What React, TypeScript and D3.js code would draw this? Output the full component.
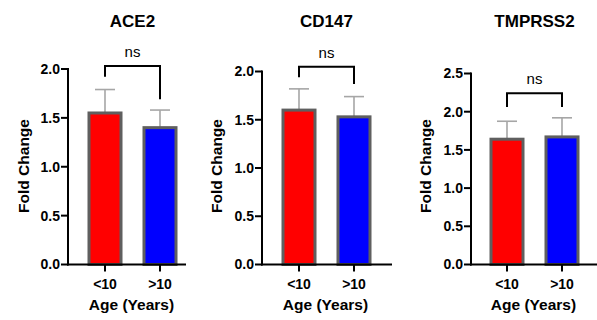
import React from "react";
import * as d3 from "d3";

const titles = ["ACE2", "CD147", "TMPRSS2"];
const categories = ["<10", ">10"];
const means = [
  [1.55, 1.4],
  [1.6, 1.53],
  [1.64, 1.67],
];
const errTops = [
  [1.79, 1.58],
  [1.82, 1.74],
  [1.875, 1.92],
];
const yMaxes = [2.0, 2.0, 2.5];
const yTickValues = [
  [0, 0.5, 1.0, 1.5, 2.0],
  [0, 0.5, 1.0, 1.5, 2.0],
  [0, 0.5, 1.0, 1.5, 2.0, 2.5],
];
const sigLabels = ["ns", "ns", "ns"];
const bracketTops = [2.03, 2.05, 2.24];
const bracketLegEnds = [
  [1.92, 1.69],
  [1.94, 1.87],
  [2.06, 2.06],
];
const yLabel = "Fold Change";
const xLabel = "Age (Years)";
const barColors = ["#ff0000", "#0000ff"];

// layout (not data)
const panels = [
  { axisX: 68, yTop: 69, xEnd: 186, c0: 105, c1: 160, yLabelX: 23 },
  { axisX: 262, yTop: 71.5, xEnd: 392, c0: 299, c1: 354, yLabelX: 216.5 },
  { axisX: 471, yTop: 73.5, xEnd: 597, c0: 507, c1: 562, yLabelX: 425 },
];
const yBottom = 264.5;
const FONT = "'Liberation Sans', Arial, Helvetica, sans-serif";

function Panel({ i }: { i: number }) {
  const p = panels[i];
  const y = d3.scaleLinear().domain([0, yMaxes[i]]).range([yBottom, p.yTop]);
  const x = d3.scalePoint<string>().domain(categories).range([p.c0, p.c1]);
  const barW = 32;
  const mid = (p.c0 + p.c1) / 2;
  const fmt = d3.format(".1f");
  const bx0 = x(categories[0])!;
  const bx1 = x(categories[1])!;
  const bracketY = y(bracketTops[i]);
  return (
    <g>
      <text x={mid} y={27} textAnchor="middle" fontFamily={FONT} fontWeight="bold" fontSize={17}>
        {titles[i]}
      </text>
      {categories.map((c, j) => {
        const cx = x(c)!;
        const top = y(means[i][j]);
        const et = y(errTops[i][j]);
        return (
          <g key={c}>
            <line x1={cx} x2={cx} y1={top} y2={et} stroke="#a6a6a6" strokeWidth={1.6} />
            <line x1={cx - 10} x2={cx + 10} y1={et} y2={et} stroke="#a6a6a6" strokeWidth={1.6} />
            <rect
              x={cx - barW / 2}
              y={top}
              width={barW}
              height={yBottom - top}
              fill={barColors[j]}
              stroke="#5f5f5f"
              strokeWidth={3}
            />
          </g>
        );
      })}
      {/* y axis */}
      <line x1={p.axisX} x2={p.axisX} y1={p.yTop - 1} y2={yBottom + 1} stroke="#000" strokeWidth={2} />
      {yTickValues[i].map((t) => (
        <g key={t}>
          <line x1={p.axisX - 7} x2={p.axisX} y1={y(t)} y2={y(t)} stroke="#000" strokeWidth={2} />
          <text
            x={p.axisX - 8}
            y={y(t)}
            dy="0.35em"
            textAnchor="end"
            fontFamily={FONT}
            fontWeight="bold"
            fontSize={14}
          >
            {fmt(t)}
          </text>
        </g>
      ))}
      {/* x axis */}
      <line x1={p.axisX - 1} x2={p.xEnd} y1={yBottom} y2={yBottom} stroke="#000" strokeWidth={2} />
      {categories.map((c) => (
        <g key={c}>
          <line x1={x(c)!} x2={x(c)!} y1={yBottom} y2={yBottom + 7} stroke="#000" strokeWidth={2} />
          <text x={x(c)!} y={289} textAnchor="middle" fontFamily={FONT} fontWeight="bold" fontSize={14}>
            {c}
          </text>
        </g>
      ))}
      <text x={mid - 1} y={310} textAnchor="middle" fontFamily={FONT} fontWeight="bold" fontSize={15.5}>
        {xLabel}
      </text>
      <text
        transform={`translate(${p.yLabelX + 5.5},166) rotate(-90)`}
        textAnchor="middle"
        fontFamily={FONT}
        fontWeight="bold"
        fontSize={15.5}
      >
        {yLabel}
      </text>
      {/* significance bracket */}
      <path
        d={`M${bx0},${y(bracketLegEnds[i][0])}V${bracketY}H${bx1}V${y(bracketLegEnds[i][1])}`}
        fill="none"
        stroke="#000"
        strokeWidth={2}
      />
      <text x={mid} y={bracketY - 9} textAnchor="middle" fontFamily={FONT} fontSize={15}>
        {sigLabels[i]}
      </text>
    </g>
  );
}

export default function App() {
  return (
    <svg
      width={597}
      height={320}
      style={{ position: "absolute", left: 0, top: 0, background: "#fff", display: "block" }}
    >
      <rect width={597} height={320} fill="#fff" />
      {titles.map((_, i) => (
        <Panel key={i} i={i} />
      ))}
    </svg>
  );
}
